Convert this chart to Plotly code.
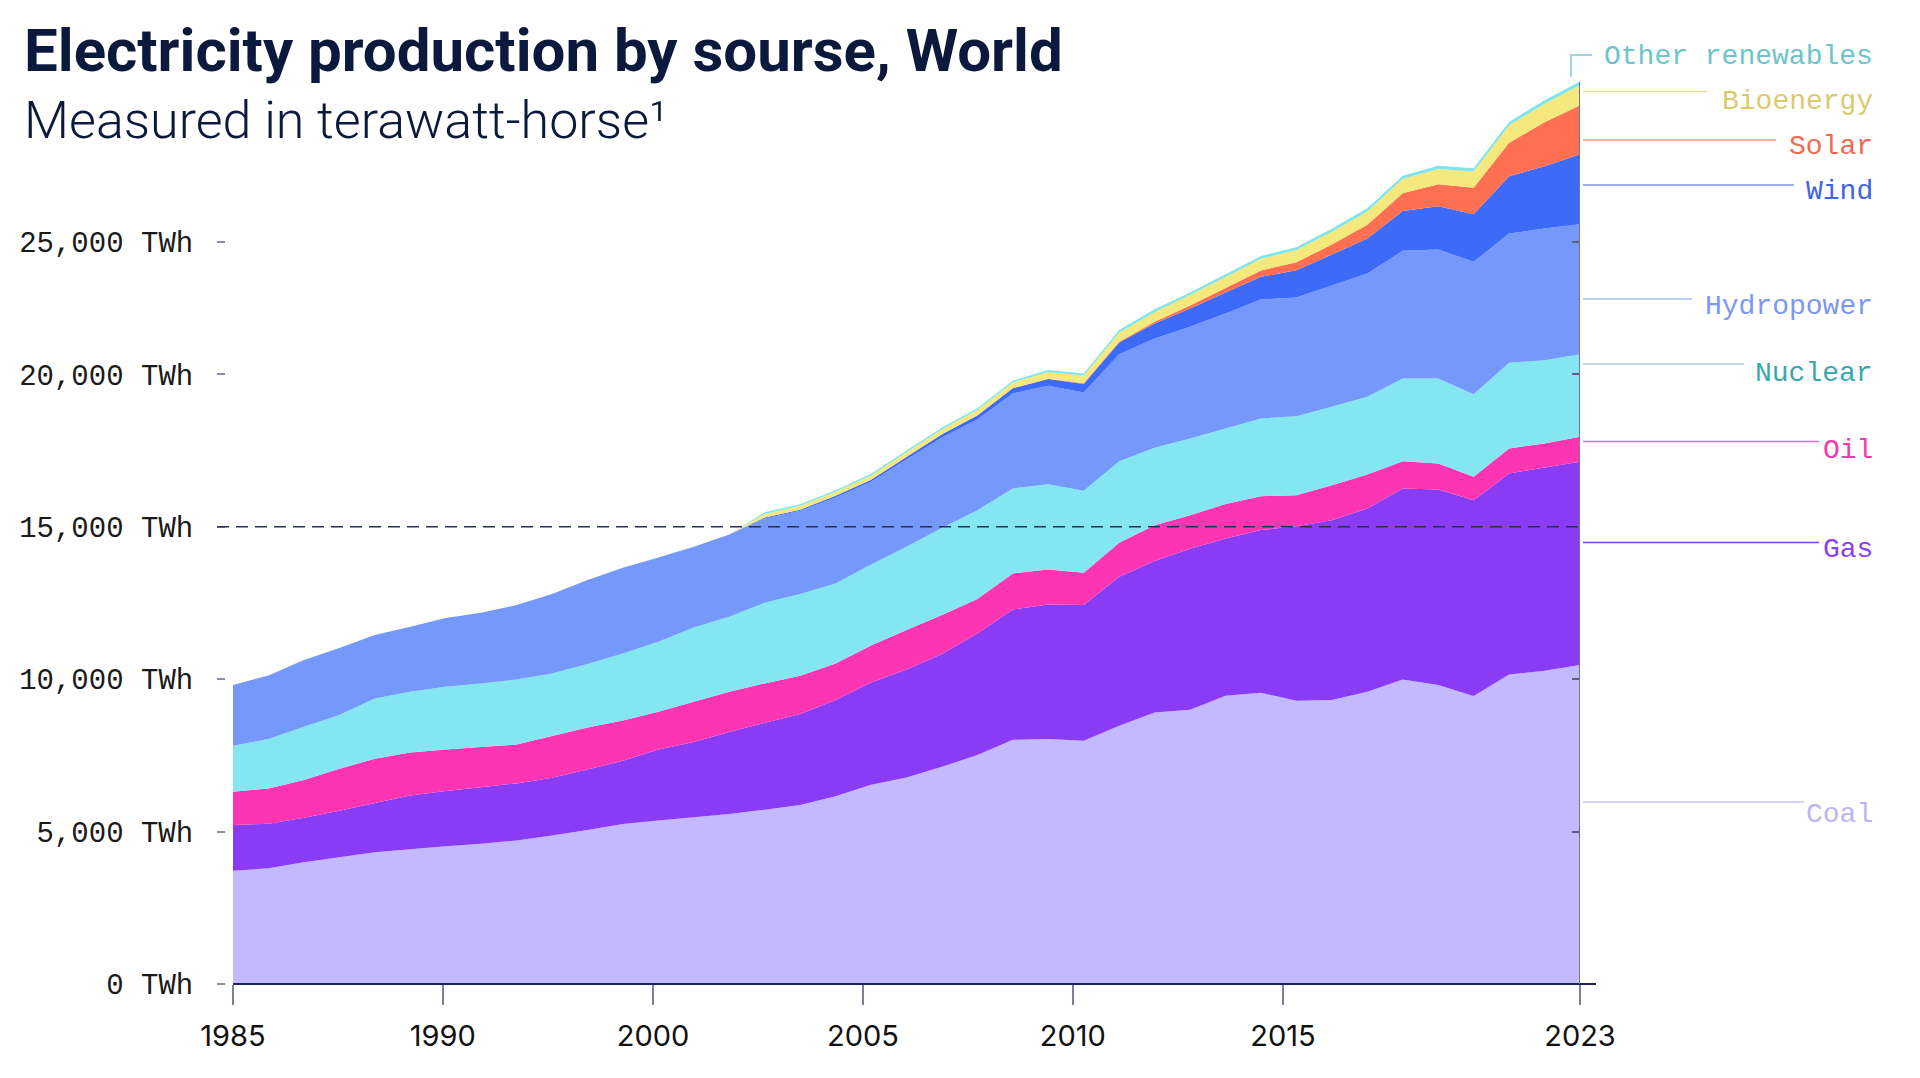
import plotly.graph_objects as go

# ---------------- data (TWh) ----------------
years = list(range(1985, 2024))

coal = [3717, 3794, 3991, 4155, 4319, 4417, 4516, 4603, 4712, 4876,
        5051, 5248, 5368, 5467, 5576, 5718, 5871, 6156, 6538, 6779,
        7128, 7511, 8014, 8036, 7981, 8473, 8911, 8998, 9457, 9556,
        9293, 9315, 9588, 9993, 9807, 9446, 10157, 10277, 10463]
gas = [1498, 1465, 1465, 1530, 1618, 1771, 1814, 1848, 1870, 1892,
       1990, 2077, 2329, 2471, 2690, 2854, 2985, 3159, 3357, 3542,
       3696, 3991, 4275, 4417, 4450, 4887, 4963, 5281, 5161, 5335,
       5729, 5904, 6014, 6265, 6418, 6429, 6593, 6670, 6670]
oil = [1093, 1159, 1235, 1380, 1450, 1411, 1367, 1323, 1279, 1366,
       1378, 1323, 1236, 1323, 1322, 1290, 1257, 1203, 1213, 1290,
       1279, 1126, 1181, 1148, 1061, 1116, 1180, 1104, 1126, 1115,
       1017, 1148, 1116, 896, 854, 766, 820, 787, 820]
nuclear = [1509, 1618, 1749, 1758, 1983, 1989, 2055, 2088, 2132, 2056,
           2077, 2198, 2295, 2437, 2460, 2645, 2679, 2624, 2657, 2733,
           2854, 2919, 2788, 2799, 2689, 2674, 2537, 2515, 2482, 2549,
           2591, 2569, 2546, 2712, 2787, 2711, 2810, 2733, 2711]
hydropower = [1990, 2088, 2187, 2198, 2077, 2132, 2253, 2318, 2438, 2602,
              2755, 2810, 2767, 2650, 2700, 2767, 2734, 2821, 2712, 2865,
              2974, 2974, 3116, 3225, 3226, 3514, 3587, 3662, 3772, 3903,
              3893, 3980, 4046, 4187, 4232, 4340, 4242, 4319, 4264]
wind = [0] * 15 + [29, 37, 55, 68, 85, 103, 129, 170, 223, 278, 380,
                   492, 601, 689, 743, 896, 1016, 1148, 1312, 1421, 1563,
                   1880, 2044, 2296]
solar = [0] * 15 + [1, 1, 2, 2, 3, 4, 6, 8, 13, 21, 30,
                    60, 100, 150, 210, 260, 330, 450, 580, 720, 870,
                    1100, 1440, 1610]
bioenergy = [0] * 15 + [120, 125, 130, 140, 150, 165, 175, 180, 220, 255, 300,
                        320, 340, 360, 380, 400, 420, 440, 470, 500, 530,
                        570, 610, 660]
other_renewables = [0] * 15 + [50, 52, 53, 55, 57, 58, 60, 62, 64, 66, 80,
                               85, 88, 90, 92, 95, 97, 100, 102, 105, 108,
                               112, 115, 118]

source_names = ["Coal", "Gas", "Oil", "Nuclear", "Hydropower",
                "Wind", "Solar", "Bioenergy", "Other renewables"]
source_values = [coal, gas, oil, nuclear, hydropower,
                 wind, solar, bioenergy, other_renewables]

# tick labels as printed on the reference axes (the reference spaces them unevenly)
x_tick_years = [1985, 1990.92, 1996.85, 2002.77, 2008.69, 2014.62, 2023]
x_tick_labels = ["1985", "1990", "2000", "2005", "2010", "2015", "2023"]
y_tick_values = [0, 5000, 10000, 15000, 20000, 24350]
y_tick_labels = ["0 TWh", "5,000 TWh", "10,000 TWh", "15,000 TWh",
                 "20,000 TWh", "25,000 TWh"]
reference_value = 15000

title_text = "Electricity production by sourse, World"
subtitle_text = "Measured in terawatt-horse\u00b9"

# ---------------- styling ----------------
fill_colors = {
    "Coal": "#c3b9fc", "Gas": "#8a3cf4", "Oil": "#fe35b2",
    "Nuclear": "#84e6f0", "Hydropower": "#7499fb", "Wind": "#3e6af8",
    "Solar": "#ff7052", "Bioenergy": "#f5e87c", "Other renewables": "#7ee4ee",
}
label_colors = {
    "Coal": "#bdb4f4", "Gas": "#8a40f0", "Oil": "#f03aaf",
    "Nuclear": "#3aa8aa", "Hydropower": "#7b98f0", "Wind": "#3f63e8",
    "Solar": "#f26a50", "Bioenergy": "#d9cb6c", "Other renewables": "#6cc5c8",
}
leader_colors = {
    "Coal": "#c9c3f6", "Gas": "#6f4ae0", "Oil": "#f56ac4",
    "Nuclear": "#a8d2d6", "Hydropower": "#a8bcf5", "Wind": "#7f95e0",
    "Solar": "#f49a86", "Bioenergy": "#ece08c", "Other renewables": "#9fd6d8",
}

# page has an 8px body margin; the figure is sized to fit inside it
ORIGIN = 8
W, H = 1904, 1062
M_L, M_R, M_T, M_B = 217, 332, 52, 86
PW = W - M_L - M_R
PH = H - M_T - M_B
Y_MAX = 30315


def px(x_page):
    return (x_page - ORIGIN - M_L) / PW


def py(y_page):
    return (H - M_B - (y_page - ORIGIN)) / PH


# label layout in page pixels: (text centre y, leader y, leader end x)
label_layout = {
    "Bioenergy": (102, 91.5, 1707),
    "Solar": (147, 140, 1776),
    "Wind": (191, 185, 1794),
    "Hydropower": (306, 299, 1692),
    "Nuclear": (373, 364, 1744),
    "Oil": (450, 441.5, 1819),
    "Gas": (549, 542.5, 1819),
    "Coal": (814, 802, 1804),
}

fig = go.Figure()
for name, vals in zip(source_names, source_values):
    fig.add_trace(go.Scatter(
        x=years, y=vals, name=name, stackgroup="energy", mode="none",
        fillcolor=fill_colors[name], hoverinfo="x+y+name",
    ))
fig.add_trace(go.Scatter(x=[None], y=[None], yaxis="y2", showlegend=False,
                         hoverinfo="skip"))

total_last = sum(v[-1] for v in source_values)

shapes = [
    # dashed reference line
    dict(type="line", xref="paper", yref="y", x0=px(217), x1=1,
         y0=reference_value, y1=reference_value, layer="above",
         line=dict(color="#27304f", width=1.6, dash="12px,7px")),
    # x axis baseline
    dict(type="line", xref="paper", yref="paper", x0=px(233), x1=px(1596),
         y0=0, y1=0, layer="above", line=dict(color="#1d2358", width=2)),
    # right end marker
    dict(type="line", xref="x", yref="y", x0=years[-1], x1=years[-1],
         y0=0, y1=total_last, layer="above",
         line=dict(color="#70768f", width=2)),
    # leader for Other renewables (L-shape)
    dict(type="path", xref="paper", yref="paper",
         path=f"M {px(1571)} {py(77)} L {px(1571)} {py(55)} L {px(1592)} {py(55)}",
         line=dict(color=leader_colors["Other renewables"], width=2)),
]

annotations = [
    dict(text=title_text, xref="paper", yref="paper", x=px(22), y=py(51),
         xanchor="left", yanchor="middle", showarrow=False,
         font=dict(family="Roboto", size=60, color="#0b1a3c", weight=700)),
    dict(text=subtitle_text, xref="paper", yref="paper", x=px(22), y=py(120),
         xanchor="left", yanchor="middle", showarrow=False,
         font=dict(family="Roboto", size=52, color="#0b1a3c", weight=300)),
    dict(text="Other renewables", xref="paper", yref="paper", x=px(1875),
         y=py(56), xanchor="right", yanchor="middle", showarrow=False,
         font=dict(family="Liberation Mono", size=28,
                   color=label_colors["Other renewables"])),
]

for name, (ty, ly, lx) in label_layout.items():
    shapes.append(dict(type="line", xref="paper", yref="paper",
                       x0=px(1583), x1=px(lx), y0=py(ly), y1=py(ly),
                       line=dict(color=leader_colors[name], width=1.5)))
    annotations.append(dict(text=name, xref="paper", yref="paper",
                            x=px(1875), y=py(ty), xanchor="right",
                            yanchor="middle", showarrow=False,
                            font=dict(family="Liberation Mono", size=28,
                                      color=label_colors[name])))

fig.update_layout(
    width=W, height=H,
    margin=dict(l=M_L, r=M_R, t=M_T, b=M_B, pad=0),
    paper_bgcolor="white", plot_bgcolor="white",
    showlegend=False,
    xaxis=dict(range=[years[0], years[-1]], domain=[px(233), 1],
               tickvals=x_tick_years, ticktext=x_tick_labels,
               ticks="outside", ticklen=20, tickwidth=2, tickcolor="#7b8099",
               showgrid=False, zeroline=False, showline=False,
               tickfont=dict(family="Inter", size=29, color="#111111"),
               ticklabelstandoff=6),
    yaxis=dict(range=[0, Y_MAX], tickvals=y_tick_values,
               ticktext=y_tick_labels, ticks="outside", ticklen=8,
               tickwidth=1.5, tickcolor="#8a8fa3", showgrid=False,
               zeroline=False, showline=False, anchor="free", position=0,
               tickfont=dict(family="Liberation Mono", size=29,
                             color="#1a1a1a"),
               ticklabelstandoff=18),
    yaxis2=dict(range=[0, Y_MAX], overlaying="y", side="right", anchor="x",
                tickvals=y_tick_values[1:], ticks="inside", ticklen=8,
                tickwidth=1.5, tickcolor="#5a6080", showticklabels=False,
                showgrid=False, zeroline=False, showline=False),
    shapes=shapes,
    annotations=annotations,
)

fig.write_html("out.html")
